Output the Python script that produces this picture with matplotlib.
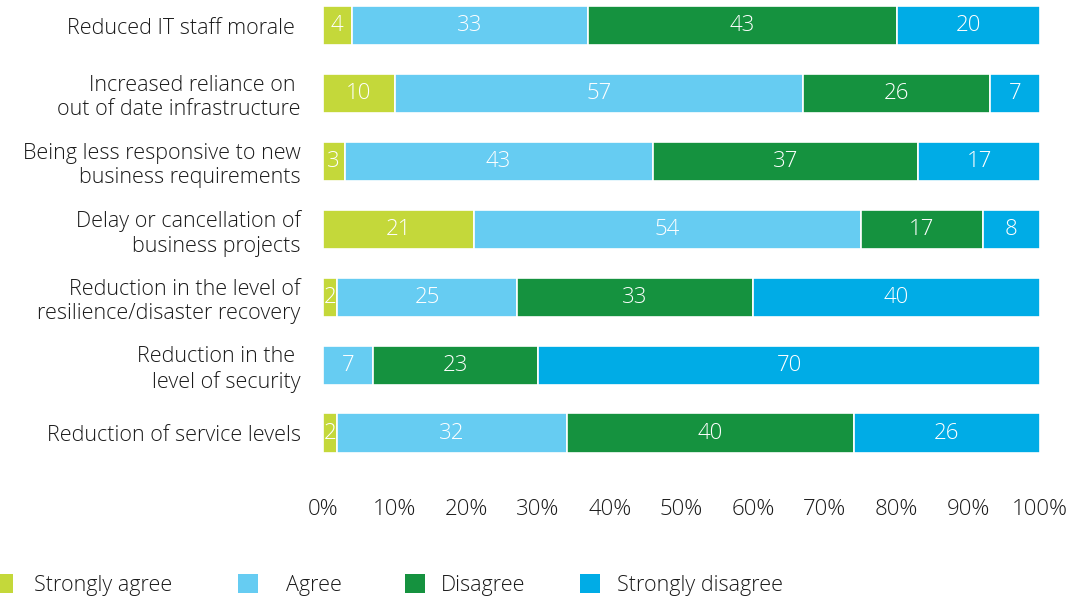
import matplotlib.pyplot as plt
from matplotlib.patches import Patch
import numpy as np

plt.rcParams['font.family'] = ['Open Sans', 'DejaVu Sans']

categories = ["Reduced IT staff morale ",
              "Increased reliance on \nout of date infrastructure",
              "Being less responsive to new\nbusiness requirements",
              "Delay or cancellation of\nbusiness projects",
              "Reduction in the level of\nresilience/disaster recovery",
              "Reduction in the \nlevel of security",
              "Reduction of service levels"]
series_names = ["Strongly agree", "Agree", "Disagree", "Strongly disagree"]
strongly_agree = [4, 10, 3, 21, 2, 0, 2]
agree = [33, 57, 43, 54, 25, 7, 32]
disagree = [43, 26, 37, 17, 33, 23, 40]
strongly_disagree = [20, 7, 17, 8, 40, 70, 26]
colors = ['#c4d83a', '#66ccf2', '#15923f', '#00ace6']
ticks = [0, 10, 20, 30, 40, 50, 60, 70, 80, 90, 100]

txt = '#1a1a1a'
W, H = 1076, 601
fig = plt.figure(figsize=(W / 100, H / 100), dpi=100)
ax = fig.add_axes([323 / W, 1 - 470 / H, 717 / W, 470 / H])

row = 67.9  # px per row
y = np.arange(len(categories))
left = np.zeros(len(categories))
for name, vals, c in zip(series_names, [strongly_agree, agree, disagree, strongly_disagree], colors):
    vals = np.array(vals, dtype=float)
    ax.barh(y, vals, left=left, height=39.3 / row, color=c, edgecolor='white', linewidth=1.2, label=name)
    for yi, (l, v) in enumerate(zip(left, vals)):
        if v > 0:
            ax.text(l + v / 2, yi, f"{int(v)}", ha='center', va='center', color='white',
                    fontsize=16, fontweight='light')
    left += vals

ax.set_xlim(0, 100)
ax.set_ylim(6 + (470 - 433.1) / row, -25.7 / row)
ax.set_yticks(y)
ax.set_yticklabels(categories, fontsize=15.5, color=txt, linespacing=1.2, fontweight='light')
ax.set_xticks(ticks)
ax.set_xticklabels([f"{t}%" for t in ticks], fontsize=16, color=txt, fontweight='light')
ax.tick_params(axis='x', length=0, pad=21)
ax.tick_params(axis='y', length=0, pad=16)
for s in ax.spines.values():
    s.set_visible(False)

# legend entries placed one by one (square left edge, text start) in px
leg_fs = 15.5
sq_left = [-7, 238, 405, 580]
text_left = [34, 286, 441, 617]
for n, c, sl, tl in zip(series_names, colors, sq_left, text_left):
    pad_px = tl - sl - 20
    fig.legend(handles=[Patch(facecolor=c, label=n)], loc='center left',
               bbox_to_anchor=(sl / W, 1 - 585 / H), frameon=False,
               prop={'size': leg_fs, 'weight': 'light'}, handlelength=14.4 / leg_fs,
               handleheight=14.4 / leg_fs, handletextpad=pad_px * 0.72 / leg_fs,
               borderpad=0, borderaxespad=0, labelcolor=txt)

plt.savefig('out.png', dpi=100)
